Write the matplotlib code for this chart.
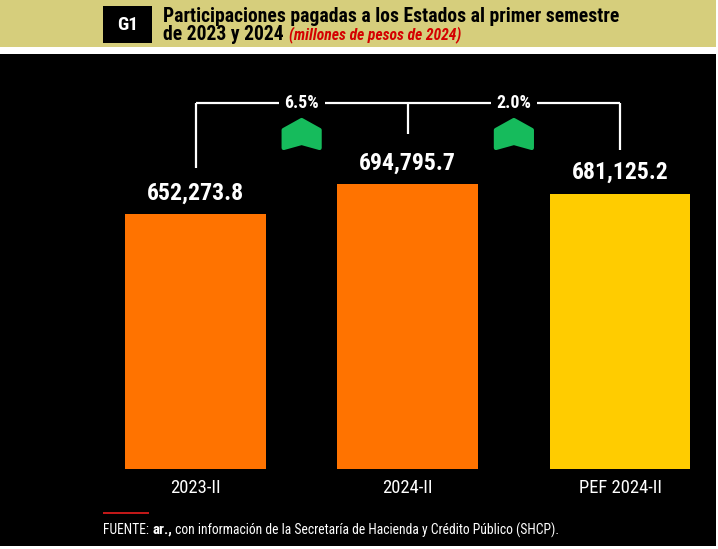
import matplotlib
matplotlib.use("Agg")
import matplotlib.pyplot as plt
from matplotlib.patches import Rectangle, Polygon
import matplotlib.transforms as mtransforms
from matplotlib import font_manager as fm

categories = ["2023-II", "2024-II", "PEF 2024-II"]
values = [652273.8, 694795.7, 681125.2]
bar_colors = ["#ff7300", "#ff7300", "#ffcc00"]
title_line1 = "Participaciones pagadas a los Estados al primer semestre"
title_line2 = "de 2023 y 2024"
subtitle = "(millones de pesos de 2024)"
source_label = "FUENTE: "
source_bold = "ar.,"
source_rest = " con información de la Secretaría de Hacienda y Crédito Público (SHCP)."

W, H = 718, 549
fig = plt.figure(figsize=(W / 100, H / 100), dpi=100)
fig.patch.set_facecolor("white")

names = {f.name for f in fm.fontManager.ttflist}
cands = ["Roboto Condensed", "Liberation Sans Narrow", "Arial Narrow",
         "DejaVu Sans Condensed", "Open Sans Condensed", "Liberation Sans"]
found = [c for c in cands if c in names]
COND = [found[0] if found else "DejaVu Sans", "DejaVu Sans"]
renderer = fig.canvas.get_renderer()


def fx(x):
    return x / W


def fy(y):
    return 1 - y / H


def width(t):
    return t.get_window_extent(renderer).width


def fit(t, target_w):
    t.set_fontsize(t.get_fontsize() * target_w / width(t))


def rect(x0, y0, x1, y1, color, z=0):
    fig.add_artist(Rectangle((fx(x0), fy(y1)), fx(x1) - fx(x0), fy(y0) - fy(y1),
                             transform=fig.transFigure, facecolor=color,
                             edgecolor="none", zorder=z))


# header band, black panel
rect(0, 0, 716, 47, "#d6ce7c")
rect(0, 54, 716, 546, "#000000")
rect(103, 6, 152, 43, "#000000", z=1)
tg = fig.text(fx(127.5), fy(25), "G1", color="white", fontsize=11, fontweight="bold",
              family=COND, ha="center", va="center", zorder=2)
fit(tg, 21)
t1 = fig.text(fx(163), fy(17), title_line1, color="black", fontsize=13.5,
              fontweight="bold", family=COND, ha="left", va="center")
fit(t1, 455)
t2 = fig.text(fx(163), fy(35), title_line2, color="black", fontsize=t1.get_fontsize(),
              fontweight="bold", family=COND, ha="left", va="center")
bb = t2.get_window_extent(renderer)
ts = fig.text(bb.x1 / W + fx(5), fy(35), subtitle, color="#d40000", fontsize=10.5,
              fontweight="bold", style="italic", family=COND, ha="left", va="center")
fit(ts, 173)

# axes
left_px, bot_px, top_px = 89.4, 469, 60
ax = fig.add_axes([fx(left_px), fy(bot_px), 1 - fx(left_px), fy(top_px) - fy(bot_px)])
ax.set_facecolor("none")
ax.axis("off")
ax.set_xlim(-0.5, 2.4617)
ymin, ymax = 290824, 870554
ax.set_ylim(ymin, ymax)
px = (ymax - ymin) / (bot_px - top_px)  # value units per pixel

xs = list(range(len(categories)))
ax.bar(xs, values, width=0.664, color=bar_colors, bottom=0, zorder=2)

cat_texts = []
for x, v in zip(xs, values):
    tv = ax.text(x, v + 21 * px, f"{v:,.1f}", color="white", fontsize=17,
                 fontweight="bold", family=COND, ha="center", va="center")
    fit(tv, 97)
    tc = ax.text(x, ymin - 19 * px, categories[x], color="white", fontsize=12,
                 family=COND, ha="center", va="center", clip_on=False)
    cat_texts.append(tc)
fit(cat_texts[2], 83)
for tc in cat_texts[:2]:
    tc.set_fontsize(cat_texts[2].get_fontsize())

# bracket
yb = ymin + (bot_px - 103) * px
offs = [46, 50, 44]
for x, v, o in zip(xs, values, offs):
    ax.plot([x, x], [v + o * px, yb], color="white", lw=1.6, solid_capstyle="butt")
pcts = [(values[1] / values[0] - 1) * 100, (values[1] / values[2] - 1) * 100]
gaps = []
for i, pct in enumerate(pcts):
    xm = i + 0.5
    gaps.append((xm - 0.108, xm + 0.108))
    tp = ax.text(xm, yb, f"{pct:.1f}%", color="white", fontsize=12.5, fontweight="bold",
                 family=COND, ha="center", va="center")
    fit(tp, 35)
    # chevron
    tr = fig.dpi_scale_trans + mtransforms.ScaledTranslation(xm, ymin + (bot_px - 134) * px, ax.transData)
    s = 1 / 100
    verts = [(-18 * s, -14 * s), (-18 * s, 4 * s), (0, 14 * s), (18 * s, 4 * s),
             (18 * s, -14 * s), (0, -9 * s)]
    ax.add_patch(Polygon(verts, closed=True, transform=tr, facecolor="#16bb5c",
                         edgecolor="#16bb5c", lw=3, joinstyle="round", zorder=3))
segs = [0]
for a, b in gaps:
    segs += [a, b]
segs.append(2)
for i in range(0, len(segs), 2):
    ax.plot([segs[i], segs[i + 1]], [yb, yb], color="white", lw=1.6, solid_capstyle="butt")

# footer
rect(103, 512, 149, 514, "#c01818", z=2)
fs = 10
f1 = fig.text(fx(103), fy(530), source_label, color="white", fontsize=fs,
              family=COND, ha="left", va="center")
f2 = fig.text(0, fy(530), source_bold, color="white", fontsize=fs * 1.1,
              fontweight="bold", family=COND, ha="left", va="center")
f3 = fig.text(0, fy(530), source_rest, color="white", fontsize=fs,
              family=COND, ha="left", va="center")
total = width(f1) + width(f2) + width(f3)
k = 457 / total
for f in (f1, f2, f3):
    f.set_fontsize(f.get_fontsize() * k)
b1 = f1.get_window_extent(renderer)
f2.set_x(b1.x1 / W)
b2 = f2.get_window_extent(renderer)
f3.set_x(b2.x1 / W)

fig.savefig("out.png", dpi=100, facecolor="white")
